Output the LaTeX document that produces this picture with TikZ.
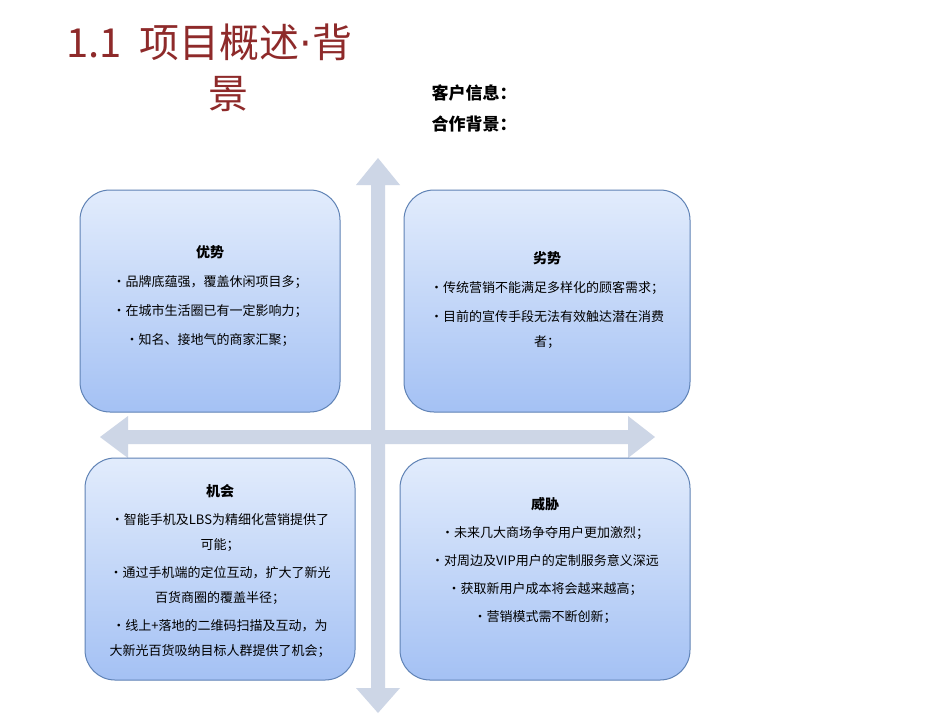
\documentclass[tikz,border=0pt]{standalone}
\usepackage{fontspec}
\setmainfont{Noto Sans CJK SC}
\newfontfamily\dotfont{DejaVu Sans}
\usetikzlibrary{arrows.meta}
\definecolor{arr}{HTML}{CDD6E6}
\definecolor{bord}{HTML}{5F82B5}
\definecolor{ttl}{HTML}{8E2A2A}
\definecolor{qtop}{RGB}{226,236,252}
\definecolor{qbot}{RGB}{164,193,244}
\tikzset{
 quad/.style={draw=bord,line width=1pt,rounded corners=30pt,top color=qtop,bottom color=qbot},
 qtext/.style={align=center,font=\fontsize{13}{25}\selectfont,text=black},
}
\begin{document}
\begin{tikzpicture}[x=1pt,y=-1pt]
\useasboundingbox (0,0) rectangle (950,713);
\fill[white] (0,0) rectangle (950,713);
% cross arrows
\fill[arr] (371,185) -- (356,185) -- (378,158) -- (400,185) -- (385,185) -- (385,688) -- (400,688) -- (378,713) -- (356,688) -- (371,688) -- cycle;
\fill[arr] (128,430) -- (128,416) -- (100,437) -- (128,458) -- (128,444) -- (628,444) -- (628,458) -- (655,437) -- (628,416) -- (628,430) -- cycle;
% boxes
\shade[quad] (80,190) rectangle (340,412);
\shade[quad] (404,190) rectangle (690,412);
\shade[quad] (85,458) rectangle (355,680);
\shade[quad] (400,458) rectangle (690,680);
\node[qtext,anchor=north] (s) at (210,242) {\textbf{\fontsize{14}{25}\selectfont 优势}\\[4pt]•品牌底蕴强，覆盖休闲项目多；\\[4pt]•在城市生活圈已有一定影响力；\\[4pt]•知名、接地气的商家汇聚；};
\node[qtext,anchor=north] (w) at (547,248) {\textbf{\fontsize{14}{25}\selectfont 劣势}\\[4pt]•传统营销不能满足多样化的顾客需求；\\[4pt]•目前的宣传手段无法有效触达潜在消费\\者；};
\node[qtext,anchor=north] (o) at (220,481) {\textbf{\fontsize{14}{25}\selectfont 机会}\\[3pt]•智能手机及LBS为精细化营销提供了\\可能；\\[3pt]•通过手机端的定位互动，扩大了新光\\百货商圈的覆盖半径；\\[3pt]•线上+落地的二维码扫描及互动，为\\大新光百货吸纳目标人群提供了机会；};
\node[qtext,anchor=north] (t) at (545,494) {\textbf{\fontsize{14}{25}\selectfont 威胁}\\[3pt]•未来几大商场争夺用户更加激烈；\\[3pt]•对周边及VIP用户的定制服务意义深远\\[3pt]•获取新用户成本将会越来越高；\\[3pt]•营销模式需不断创新；};
% titles
\node[anchor=west,text=ttl,font=\fontsize{40}{44}\selectfont,inner sep=0] (t1) at (66,42) {1.1\ \ 项目概述{\dotfont ·}背};
\node[anchor=center,text=ttl,font=\fontsize{40}{44}\selectfont] (t2) at (228,94) {景};
\node[anchor=west,font=\bfseries\fontsize{17}{20}\selectfont] (c1) at (428,93) {客户信息：};
\node[anchor=west,font=\bfseries\fontsize{17}{20}\selectfont] (c2) at (428,124) {合作背景：};
\end{tikzpicture}
\end{document}
